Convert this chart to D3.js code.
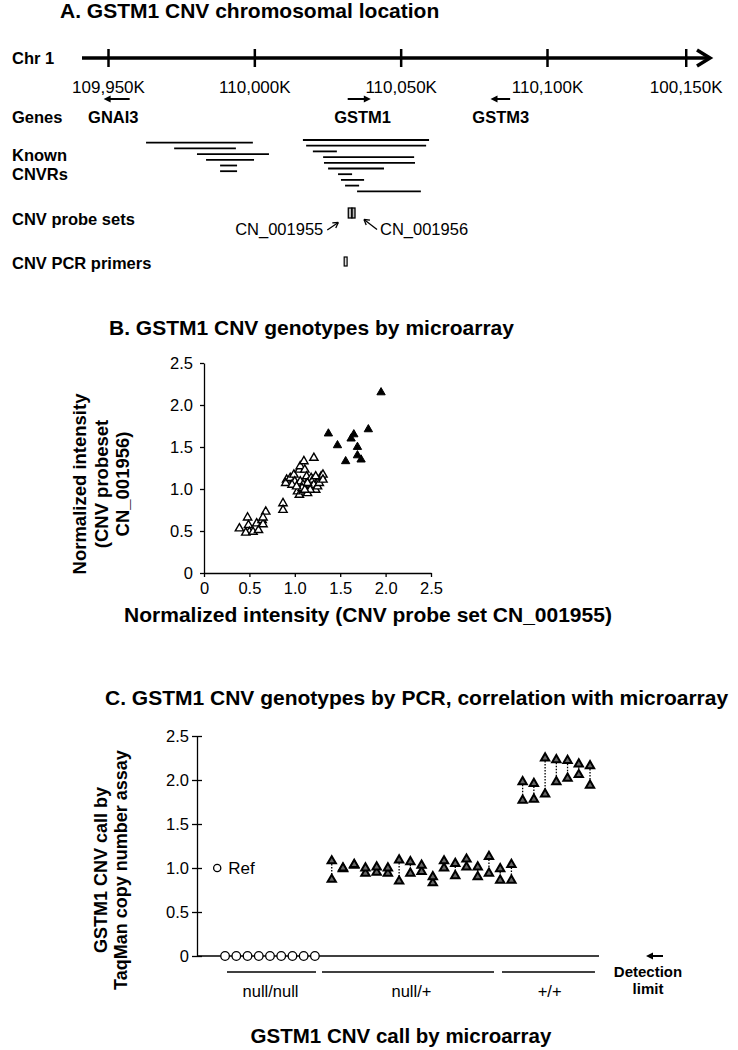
<!DOCTYPE html>
<html><head><meta charset="utf-8">
<script src="https://cdn.jsdelivr.net/npm/d3@7"></script>
<style>body{margin:0;background:#fff} svg{display:block}</style>
</head><body><svg id="c" width="738" height="1050"></svg>
<script>
// ---------- Panel A data ----------
const chrTicks = [109950, 110000, 110050, 110100, 110147.4];
const chrTickLabels = ["109,950K", "110,000K", "110,050K", "110,100K", "100,150K"];
const geneNames = ["GNAI3", "GSTM1", "GSTM3"];
const geneStart = [109948.5, 110031.9, 110080.7];
const geneEnd = [109957.4, 110039.8, 110087.4];
const geneStrand = [-1, 1, -1];
const geneLabelPos = [109951.8, 110037.0, 110084.2];
const cnvrLeft = [[109963.0, 109999.5], [109972.6, 109993.7], [109980.4, 110005.0], [109983.5, 109999.9], [109988.3, 109994.1], [109988.3, 109994.1]];
const cnvrRight = [[110016.6, 110059.7], [110017.7, 110058.7], [110020.0, 110028.2], [110023.5, 110054.6], [110023.8, 110054.9], [110025.2, 110044.3], [110028.6, 110033.4], [110029.6, 110037.5], [110031.0, 110035.8], [110035.1, 110056.9]];
const probeNames = ["CN_001955", "CN_001956"];
const probeStart = [110032.1, 110033.4];
const probeEnd = [110033.3, 110034.4];
const primerStart = [110030.7];
const primerEnd = [110031.7];
const rowLabels = ["Chr 1", "Genes", "Known", "CNVRs", "CNV probe sets", "CNV PCR primers"];

// ---------- Panel B data ----------
const bTicks = [0, 0.5, 1.0, 1.5, 2.0, 2.5];
const bTickLabels = ["0", "0.5", "1.0", "1.5", "2.0", "2.5"];
const openX = [0.39,0.48,0.49,0.50,0.46,0.54,0.58,0.60,0.64,0.65,0.68,0.65, 0.87,0.87,
  0.91,0.90,0.95,0.99,1.00,1.04,1.05,1.06,1.10,1.11,1.13,1.03,1.05,1.09,1.14,1.12,1.16,1.18,1.20,1.21,1.23,1.25,1.27,1.29,1.31,1.21,1.06,0.97,1.09,1.14,1.08,1.17,1.11,1.02,1.23,1.27,1.31];
const openY = [0.53,0.66,0.57,0.49,0.48,0.49,0.59,0.51,0.63,0.58,0.73,0.66, 0.83,0.75,
  1.11,1.07,1.13,1.17,1.09,1.05,1.23,1.27,1.33,1.23,1.15,0.97,0.93,0.97,0.95,1.05,1.07,1.13,1.11,1.05,0.99,1.03,1.11,1.15,1.17,1.37,1.09,1.05,1.05,1.07,1.01,0.99,0.99,1.03,1.15,1.07,1.11];
const filledX = [1.37,1.47,1.56,1.62,1.65,1.69,1.69,1.73,1.81,1.95];
const filledY = [1.66,1.52,1.33,1.60,1.65,1.50,1.40,1.35,1.71,2.15];

// ---------- Panel C data ----------
const cTicks = [0, 0.5, 1.0, 1.5, 2.0, 2.5];
const cTickLabels = ["0", "0.5", "1.0", "1.5", "2.0", "2.5"];
const groupNames = ["null/null", "null/+", "+/+"];
const nullNullPos = [1, 2, 3, 4, 5, 6, 7, 8, 9];
const nullNullVal = [0, 0, 0, 0, 0, 0, 0, 0, 0];
const refPos = 0.3, refVal = 1.0;
const hetPos = [10.5,11.5,12.5,13.5,14.5,15.5,16.5,17.5,18.5,19.5,20.5,21.5,22.5,23.5,24.5,25.5,26.5];
const hetUpper = [1.08,1.00,1.04,1.00,1.01,1.00,1.09,1.07,1.03,0.90,1.08,1.05,1.10,1.01,1.13,0.99,1.04];
const hetLower = [0.87,0.99,1.03,0.94,0.95,0.94,0.85,0.94,0.96,0.83,1.00,0.91,1.01,0.90,0.94,0.86,0.86];
const homPos = [27.5,28.5,29.5,30.5,31.5,32.5,33.5];
const homUpper = [1.98,1.96,2.25,2.23,2.22,2.18,2.16];
const homLower = [1.77,1.78,1.84,1.98,2.02,2.06,1.94];
const groupSpan = [[1.17, 9.1], [9.63, 24.95], [25.66, 33.94]];
const groupLabelPos = [5.05, 17.6, 29.9];

// ---------- drawing ----------
const FF = '"Liberation Sans", Arial, Helvetica, sans-serif';
const svg = d3.select("#c");
function text(x, y, s, size, weight, anchor) {
  return svg.append("text").attr("x", x).attr("y", y).text(s)
    .attr("font-family", FF).attr("font-size", size).attr("font-weight", weight || "normal")
    .attr("text-anchor", anchor || "start").attr("fill", "#000");
}
function arrowHead(g, x, y, dir, len, half) {
  g.append("path").attr("d", `M${x},${y} L${x - dir * len},${y - half} L${x - dir * len},${y + half} Z`).attr("fill", "#000");
}

// ===== Panel A =====
const xA = d3.scaleLinear().domain([109950, 110100]).range([108, 547]);
text(60, 18, "A. GSTM1 CNV chromosomal location", 21, "bold");
const rowY = [58, 117, 155, 174, 219, 263];
rowLabels.forEach((l, i) => text(12, rowY[i] + 6, l, 16.5, "bold"));

const gA = svg.append("g");
gA.append("line").attr("x1", 82).attr("x2", 708).attr("y1", 58).attr("y2", 58).attr("stroke", "#000").attr("stroke-width", 3.5);
gA.append("path").attr("d", "M697,50 L710,58 L697,66").attr("fill", "none").attr("stroke", "#000").attr("stroke-width", 3.5).attr("stroke-linejoin", "miter");
const chrAxis = svg.append("g").attr("transform", "translate(0,58)")
  .call(d3.axisBottom(xA).tickValues(chrTicks).tickFormat((d, i) => chrTickLabels[i]).tickSize(9).tickPadding(14));
chrAxis.select(".domain").remove();
chrAxis.selectAll(".tick line").attr("y1", -9).attr("y2", 9).attr("stroke-width", 2.5).attr("stroke", "#000");
chrAxis.selectAll(".tick text").attr("font-family", FF).attr("font-size", 17).attr("fill", "#000");

// genes
geneNames.forEach((g, i) => {
  const x1 = xA(geneStart[i]), x2 = xA(geneEnd[i]);
  const tip = geneStrand[i] > 0 ? x2 : x1, tail = geneStrand[i] > 0 ? x1 : x2;
  gA.append("line").attr("x1", tail).attr("x2", tip - geneStrand[i] * 5).attr("y1", 99).attr("y2", 99).attr("stroke", "#000").attr("stroke-width", 2);
  arrowHead(gA, tip, 99, geneStrand[i], 7, 3.5);
  text(xA(geneLabelPos[i]), 123, g, 16.5, "bold", "middle");
});
// CNVRs
cnvrLeft.forEach((d, i) => gA.append("line").attr("x1", xA(d[0])).attr("x2", xA(d[1])).attr("y1", 142.7 + i * 5.7).attr("y2", 142.7 + i * 5.7).attr("stroke", "#000").attr("stroke-width", 1.8));
cnvrRight.forEach((d, i) => gA.append("line").attr("x1", xA(d[0])).attr("x2", xA(d[1])).attr("y1", 140 + i * 5.7).attr("y2", 140 + i * 5.7).attr("stroke", "#000").attr("stroke-width", 1.8));
// probes
probeNames.forEach((p, i) => gA.append("rect").attr("x", xA(probeStart[i])).attr("width", xA(probeEnd[i]) - xA(probeStart[i])).attr("y", 208).attr("height", 10).attr("fill", "#bbb").attr("stroke", "#000").attr("stroke-width", 1.3));
primerStart.forEach((p, i) => gA.append("rect").attr("x", xA(p)).attr("width", xA(primerEnd[i]) - xA(p)).attr("y", 257).attr("height", 9).attr("fill", "#ddd").attr("stroke", "#000").attr("stroke-width", 1.2));
const p1 = xA(probeStart[0]), p2 = xA(probeEnd[1]);
text(p1 - 25, 235, probeNames[0], 16.5, "normal", "end");
text(p2 + 25, 235, probeNames[1], 16.5, "normal", "start");
function thinArrow(x1, y1, x2, y2) {
  gA.append("line").attr("x1", x1).attr("y1", y1).attr("x2", x2).attr("y2", y2).attr("stroke", "#000").attr("stroke-width", 1.3);
  const a = Math.atan2(y2 - y1, x2 - x1), L = 6;
  [a + 2.6, a - 2.6].forEach(b => gA.append("line").attr("x1", x2).attr("y1", y2).attr("x2", x2 + L * Math.cos(b)).attr("y2", y2 + L * Math.sin(b)).attr("stroke", "#000").attr("stroke-width", 1.3));
}
thinArrow(p1 - 21, 230, p1 - 10, 222.5);
thinArrow(p2 + 22, 229.5, p2 + 9, 219.5);

// ===== Panel B =====
const xB = d3.scaleLinear().domain([0, 2.5]).range([204, 431]);
const yB = d3.scaleLinear().domain([0, 2.5]).range([573, 363]);
text(109, 335, "B. GSTM1 CNV genotypes by microarray", 21, "bold");
function styleAxis(g) {
  g.selectAll(".domain").attr("stroke", "#000").attr("stroke-width", 1.3);
  g.selectAll(".tick line").attr("stroke", "#000").attr("stroke-width", 1.3);
  g.selectAll(".tick text").attr("font-family", FF).attr("font-size", 16.5).attr("fill", "#000");
}
const bxAxis = svg.append("g").attr("transform", "translate(0,573)")
  .call(d3.axisBottom(xB).tickValues(bTicks).tickFormat((d, i) => bTickLabels[i]).tickSize(4).tickSizeOuter(0).tickPadding(5));
styleAxis(bxAxis);
const byAxis = svg.append("g").attr("transform", "translate(204,0)")
  .call(d3.axisLeft(yB).tickValues(bTicks).tickFormat((d, i) => bTickLabels[i]).tickSize(4).tickSizeOuter(0).tickPadding(7));
styleAxis(byAxis);
const triSmall = d3.symbol().type(d3.symbolTriangle).size(30);
openX.forEach((x, i) => svg.append("path").attr("d", triSmall).attr("transform", `translate(${xB(x)},${yB(openY[i])})`).attr("fill", "#fff").attr("stroke", "#000").attr("stroke-width", 1.4));
filledX.forEach((x, i) => svg.append("path").attr("d", triSmall).attr("transform", `translate(${xB(x)},${yB(filledY[i])})`).attr("fill", "#000").attr("stroke", "#000").attr("stroke-width", 1));
const byLab = ["Normalized intensity", "(CNV probeset", "CN_001956)"];
const byLabX = [79.5, 101.5, 122.5];
byLab.forEach((l, i) => svg.append("text").attr("transform", `translate(${byLabX[i] + 6.5},484) rotate(-90)`).attr("text-anchor", "middle")
  .attr("font-family", FF).attr("font-size", 18.5).attr("font-weight", "bold").text(l));
text(368, 622, "Normalized intensity (CNV probe set CN_001955)", 21, "bold", "middle");

// ===== Panel C =====
const xC = d3.scaleLinear().domain([-1.5, 34.3]).range([197, 599]);
const yC = d3.scaleLinear().domain([0, 2.5]).range([956, 736]);
text(105, 705, "C. GSTM1 CNV genotypes by PCR, correlation with microarray", 21, "bold");
const cyAxis = svg.append("g").attr("transform", "translate(197,0)")
  .call(d3.axisLeft(yC).tickValues(cTicks).tickFormat((d, i) => cTickLabels[i]).tickSize(5).tickSizeOuter(0).tickPadding(3));
styleAxis(cyAxis);
cyAxis.selectAll(".tick line").attr("x1", 5);
svg.append("line").attr("x1", xC(-1.5)).attr("x2", xC(34.3)).attr("y1", yC(0)).attr("y2", yC(0)).attr("stroke", "#000").attr("stroke-width", 1.6);
const cLab = ["GSTM1 CNV call by", "TaqMan copy number assay"];
const cLabX = [100, 120];
cLab.forEach((l, i) => svg.append("text").attr("transform", `translate(${cLabX[i] + 6.5},870) rotate(-90)`).attr("text-anchor", "middle")
  .attr("font-family", FF).attr("font-size", 18).attr("font-weight", "bold").text(l));
// circles
nullNullPos.forEach((p, i) => svg.append("circle").attr("cx", xC(p)).attr("cy", yC(nullNullVal[i])).attr("r", 4.3).attr("fill", "#fff").attr("stroke", "#000").attr("stroke-width", 1.3));
svg.append("circle").attr("cx", xC(refPos)).attr("cy", yC(refVal)).attr("r", 3.6).attr("fill", "#fff").attr("stroke", "#000").attr("stroke-width", 1.3);
text(xC(refPos) + 11, yC(refVal) + 6, "Ref", 17);
// pairs
const triC = d3.symbol().type(d3.symbolTriangle).size(30);
function pairs(pos, up, lo) {
  pos.forEach((p, i) => {
    svg.append("line").attr("x1", xC(p)).attr("x2", xC(p)).attr("y1", yC(up[i])).attr("y2", yC(lo[i])).attr("stroke", "#000").attr("stroke-width", 1.3).attr("stroke-dasharray", "1.5,1.5");
    [lo[i], up[i]].forEach(v => svg.append("path").attr("d", triC).attr("transform", `translate(${xC(p)},${yC(v)})`).attr("fill", "#666").attr("stroke", "#000").attr("stroke-width", 2));
  });
}
pairs(hetPos, hetUpper, hetLower);
pairs(homPos, homUpper, homLower);
// group underlines and labels
groupSpan.forEach((s, i) => {
  svg.append("line").attr("x1", xC(s[0])).attr("x2", xC(s[1])).attr("y1", 972).attr("y2", 972).attr("stroke", "#000").attr("stroke-width", 1.3);
  text(xC(groupLabelPos[i]), 997, groupNames[i], 16.5, "normal", "middle");
});
// detection limit
const gD = svg.append("g");
gD.append("line").attr("x1", 663).attr("x2", 652).attr("y1", yC(0)).attr("y2", yC(0)).attr("stroke", "#000").attr("stroke-width", 2);
arrowHead(gD, 646, yC(0), -1, 7, 3.5);
text(648, 977, "Detection", 15, "bold", "middle");
text(648, 994, "limit", 15, "bold", "middle");
text(401, 1043, "GSTM1 CNV call by microarray", 20.5, "bold", "middle");
</script></body></html>
